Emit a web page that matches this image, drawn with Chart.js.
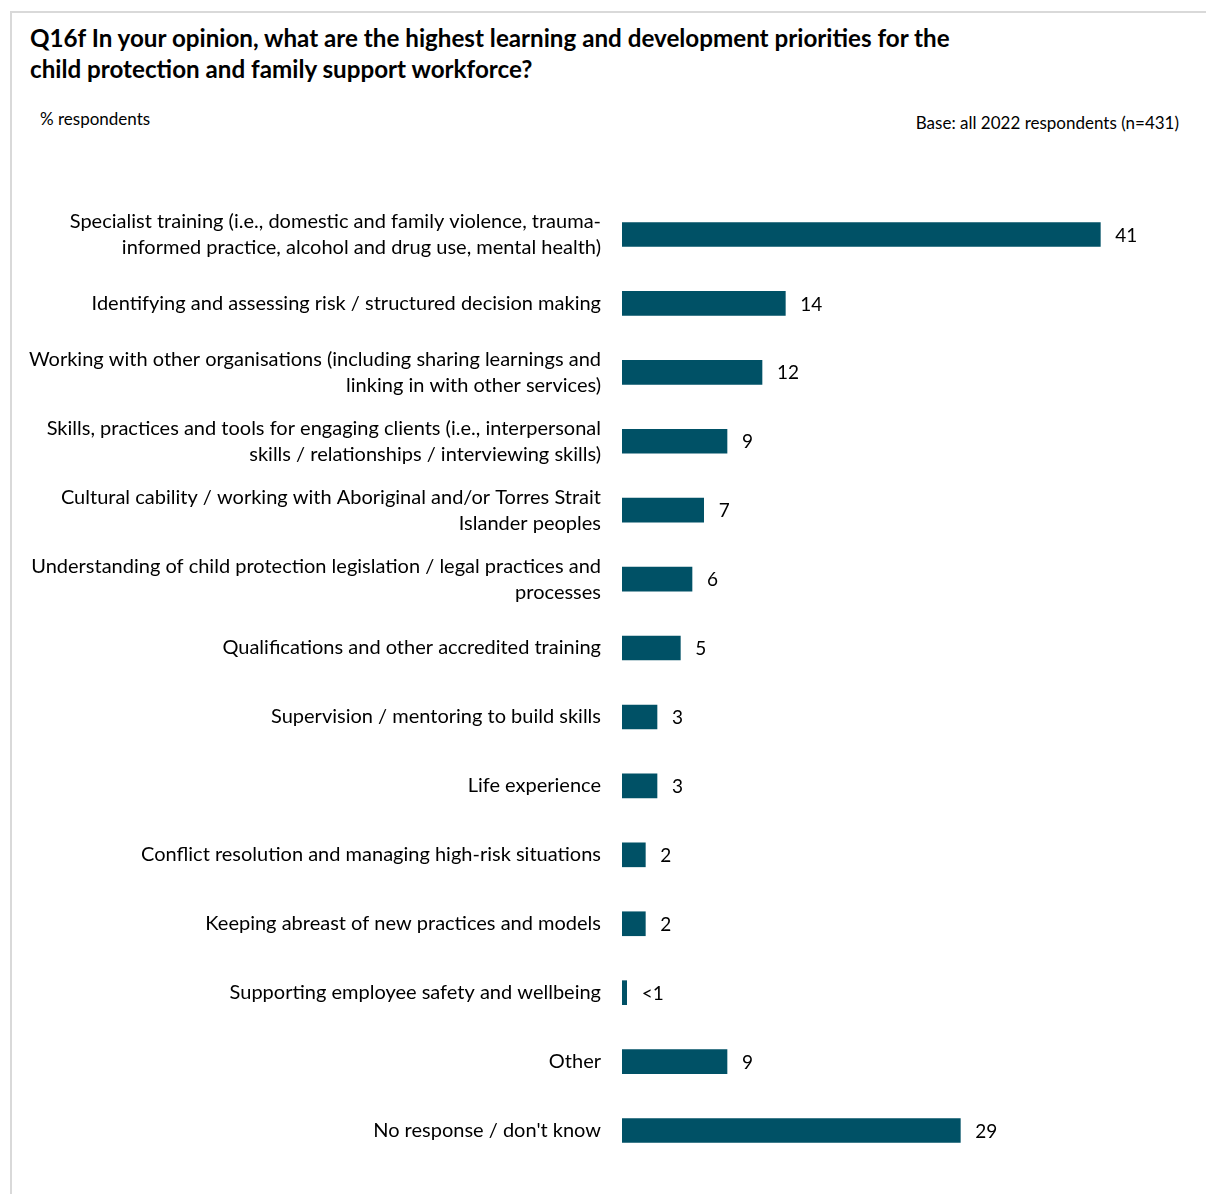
<!DOCTYPE html>
<html>
<head>
<meta charset="utf-8">
<script src="https://cdn.jsdelivr.net/npm/chart.js@4.4.1/dist/chart.umd.min.js"></script>
<style>
  html, body { margin: 0; padding: 0; background: #fff; }
  body { width: 1206px; height: 1194px; position: relative; overflow: hidden; font-family: Lato, "Open Sans", sans-serif; color: #000; }
  .frame { position: absolute; left: 10px; top: 11px; width: 1300px; height: 1300px; border-left: 2px solid #d9d9d9; border-top: 2px solid #d9d9d9; }
  .title { position: absolute; left: 30px; top: 22px; font-weight: bold; font-size: 24.2px; line-height: 31px; }
  .unit { position: absolute; left: 40px; top: 108px; font-size: 17px; }
  .base { position: absolute; right: 27px; top: 112px; font-size: 17px; }
  #wrap { position: absolute; left: 0; top: 0; width: 1206px; height: 1212px; }
</style>
</head>
<body>
<div class="frame"></div>
<div class="title">Q16f In your opinion, what are the highest learning and development priorities for the<br>child protection and family support workforce?</div>
<div class="unit">% respondents</div>
<div class="base">Base: all 2022 respondents (n=431)</div>
<div id="wrap"><canvas id="chart"></canvas></div>
<script>
// categories (multi-line labels as arrays)
const categories = [
  ["Specialist training (i.e., domestic and family violence, trauma-", "informed practice, alcohol and drug use, mental health)"],
  "Identifying and assessing risk / structured decision making",
  ["Working with other organisations (including sharing learnings and", "linking in with other services)"],
  ["Skills, practices and tools for engaging clients (i.e., interpersonal", "skills / relationships / interviewing skills)"],
  ["Cultural cability / working with Aboriginal and/or Torres Strait", "Islander peoples"],
  ["Understanding of child protection legislation / legal practices and", "processes"],
  "Qualifications and other accredited training",
  "Supervision / mentoring to build skills",
  "Life experience",
  "Conflict resolution and managing high-risk situations",
  "Keeping abreast of new practices and models",
  "Supporting employee safety and wellbeing",
  "Other",
  "No response / don't know"
];
const values = [41, 14, 12, 9, 7, 6, 5, 3, 3, 2, 2, 0.4, 9, 29];
const valueLabels = ["41", "14", "12", "9", "7", "6", "5", "3", "3", "2", "2", "<1", "9", "29"];

const barColor = "#005166";

const labelPlugin = {
  id: "valueLabels",
  afterDatasetsDraw(chart) {
    const ctx = chart.ctx;
    const meta = chart.getDatasetMeta(0);
    ctx.save();
    ctx.font = "19px Lato, 'Open Sans', sans-serif";
    ctx.fillStyle = "#000";
    ctx.textAlign = "left";
    ctx.textBaseline = "middle";
    meta.data.forEach((bar, i) => {
      ctx.fillText(valueLabels[i], bar.x + 15, bar.y + 1);
    });
    ctx.restore();
  }
};

new Chart(document.getElementById("chart"), {
  type: "bar",
  data: {
    labels: categories,
    datasets: [{
      data: values,
      backgroundColor: barColor,
      barThickness: 24
    }]
  },
  options: {
    indexAxis: "y",
    responsive: true,
    maintainAspectRatio: false,
    animation: false,
    layout: { padding: { top: 200, bottom: 12, right: 59, left: 0 } },
    plugins: { legend: { display: false }, tooltip: { enabled: false } },
    scales: {
      x: {
        display: false,
        min: 0,
        max: 45
      },
      y: {
        grid: { display: false, drawTicks: false },
        border: { display: false },
        ticks: {
          color: "#000",
          padding: 21,
          font: { family: "Lato, 'Open Sans', sans-serif", size: 20, lineHeight: 1.3 }
        },
        afterFit(scale) { scale.width = 622; }
      }
    }
  },
  plugins: [labelPlugin]
});
</script>
</body>
</html>
